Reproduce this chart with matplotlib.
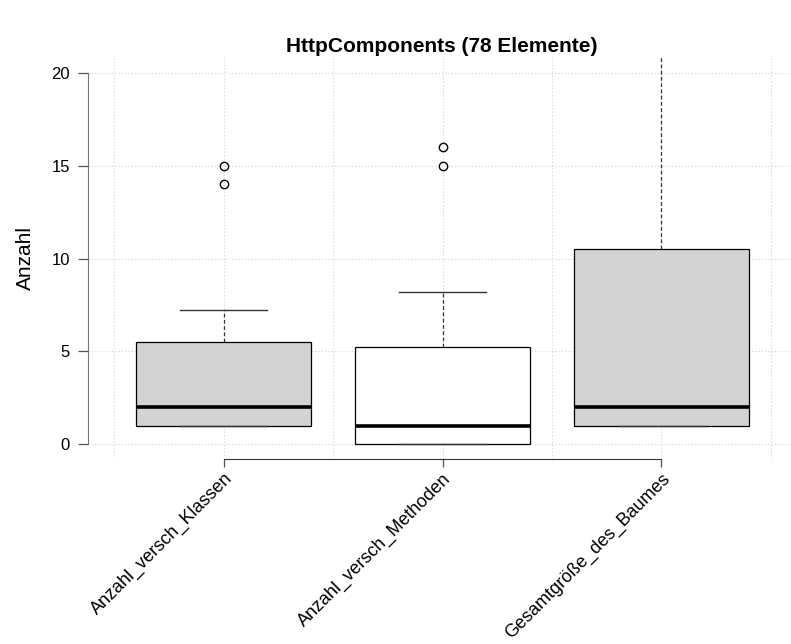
import matplotlib
matplotlib.use("Agg")
import matplotlib.pyplot as plt

plt.rcParams['font.family'] = ['Liberation Sans', 'DejaVu Sans']

# data
labels = ["Anzahl_versch_Klassen", "Anzahl_versch_Methoden", "Gesamtgröße_des_Baumes"]
q1 = [1, 0, 1]
medians = [2, 1, 2]
q3 = [5.5, 5.25, 10.5]
whis_lo = [1, 0, 1]
whis_hi = [7.2, 8.2, 24]
outliers = [[14, 15], [15, 16], []]
fills = ["#D3D3D3", "white", "#D3D3D3"]

stats = []
for i in range(len(labels)):
    stats.append(dict(med=medians[i], q1=q1[i], q3=q3[i],
                      whislo=whis_lo[i], whishi=whis_hi[i],
                      fliers=outliers[i], label=labels[i]))

fig = plt.figure(figsize=(7.91, 6.44), dpi=100)
ax = fig.add_axes([88 / 791, 1 - 459 / 644, 709 / 791, 401 / 644])

bp = ax.bxp(stats, positions=[1, 2, 3], widths=0.8, patch_artist=True,
            boxprops=dict(edgecolor="black", linewidth=0.9),
            medianprops=dict(color="black", linewidth=2.6),
            whiskerprops=dict(color="#333333", linewidth=0.9, linestyle=(0, (3, 2))),
            capprops=dict(color="#333333", linewidth=1.0),
            flierprops=dict(marker="o", markerfacecolor="none", markeredgecolor="black",
                            markersize=6, markeredgewidth=1.0),
            zorder=3)
for patch, c in zip(bp["boxes"], fills):
    patch.set_facecolor(c)

ax.set_xlim(0.38, 3.62)
ax.set_ylim(-0.8, 20.8)

# dotted grid
ax.set_xticks([1, 2, 3])
ax.set_xticks([0.5, 1.5, 2.5, 3.5], minor=True)
ax.set_yticks([0, 5, 10, 15, 20])
ax.grid(True, which="both", color="#D3D3D3", linestyle=(0, (1, 2)), linewidth=0.8, zorder=0)
ax.set_axisbelow(True)
ax.tick_params(axis="x", which="minor", length=0)

for s in ["top", "right"]:
    ax.spines[s].set_visible(False)
ax.spines["left"].set_bounds(0, 20)
ax.spines["left"].set_color("#777777")
ax.spines["bottom"].set_bounds(1, 3)
ax.spines["bottom"].set_color("#333333")

ax.tick_params(axis="y", which="major", length=7, width=0.9, color="#555555",
               labelsize=12, pad=6)
ax.tick_params(axis="x", which="major", length=6, width=0.9, color="#555555",
               labelsize=13, pad=2)
ax.set_xticklabels(labels, rotation=45, ha="right", va="top", rotation_mode="anchor")

fig.text(442 / 791, 1 - 47 / 644, "HttpComponents (78 Elemente)", ha="center", va="center",
         fontsize=15, fontweight="bold")
fig.text(25 / 791, 1 - 258 / 644, "Anzahl", ha="center", va="center", rotation=90,
         fontsize=15)

fig.savefig("out.png", dpi=100)
